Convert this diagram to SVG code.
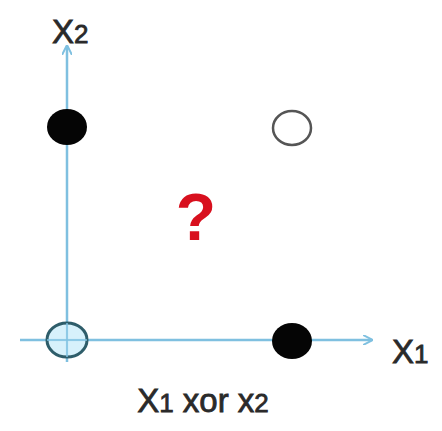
<svg xmlns="http://www.w3.org/2000/svg" width="442" height="431" viewBox="0 0 442 431">
<style>
.axis{stroke:#7fc0e0;stroke-width:2.5;fill:none}
.lbl{font-family:"Liberation Sans",Arial,sans-serif;fill:#2a2a2a;font-size:33px;stroke:#2a2a2a;stroke-width:0.8}
.sub{font-size:26px}
.filled{fill:#050505}
.open{fill:#fff;stroke:#555;stroke-width:2.5}
</style>
<defs>
<marker id="arr" viewBox="0 0 10 10" refX="9" refY="5" markerWidth="4" markerHeight="4" orient="auto" markerUnits="strokeWidth">
<path d="M0,0 L10,5 L0,10" fill="none" stroke="#7fc0e0" stroke-width="2"/>
</marker>
</defs>
<rect width="442" height="431" fill="#fff"/>
<g id="connectors">
<line class="axis" x1="67" y1="362" x2="67" y2="46" marker-end="url(#arr)"/>
<line class="axis" x1="20" y1="340" x2="372" y2="340" marker-end="url(#arr)"/>
</g>
<g id="label-x2"><text class="lbl" x="52" y="43">X<tspan class="sub">2</tspan></text></g>
<g id="label-x1"><text class="lbl" x="392" y="363">X<tspan class="sub">1</tspan></text></g>
<g id="point-01"><ellipse class="filled" cx="67" cy="127" rx="20" ry="18"/></g>
<g id="point-11"><ellipse class="open" cx="292" cy="128" rx="19" ry="17"/></g>
<g id="point-10"><ellipse class="filled" cx="292" cy="341" rx="20" ry="18"/></g>
<g id="point-00"><ellipse cx="67" cy="340" rx="20" ry="17" fill="#cdeefa" fill-opacity="0.8" stroke="#2e5d6a" stroke-width="3"/>
<line x1="67" y1="323" x2="67" y2="357" stroke="#7fc0e0" stroke-width="1.5"/>
<line x1="47" y1="340" x2="87" y2="340" stroke="#7fc0e0" stroke-width="1.5"/></g>
<g id="question"><text x="196" y="240" text-anchor="middle" font-family="Liberation Sans,Arial,sans-serif" font-weight="bold" font-size="66" fill="#d8101e">?</text></g>
<g id="caption"><text class="lbl" x="203" y="412" text-anchor="middle">X<tspan class="sub">1</tspan> xor x<tspan class="sub">2</tspan></text></g>
</svg>
